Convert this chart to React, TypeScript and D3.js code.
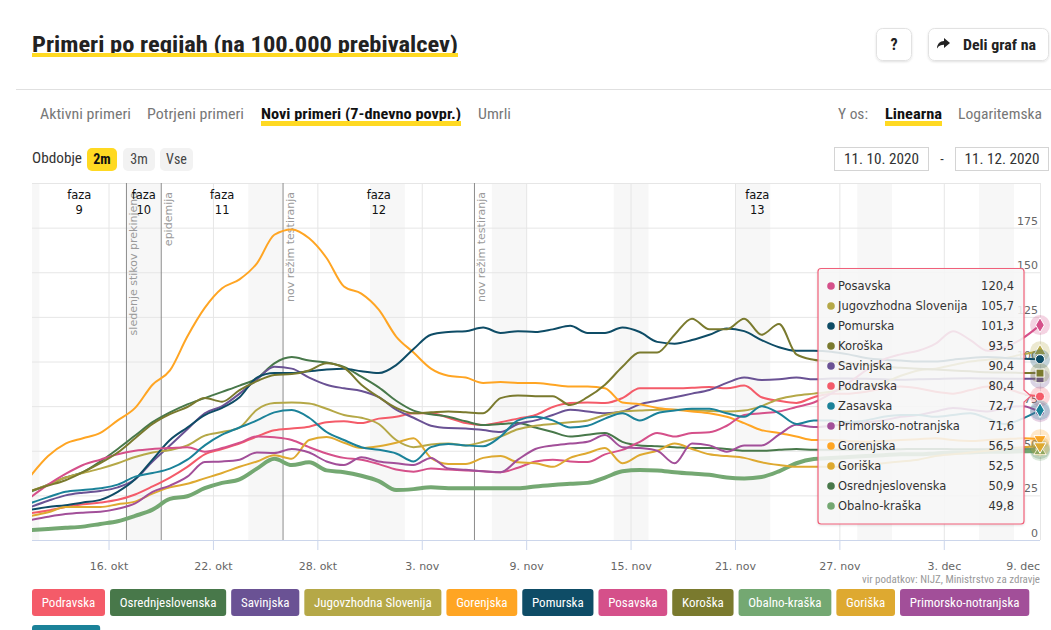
import React from 'react';
import * as d3 from 'd3';

// series, in legend order
const regions = ['Podravska', 'Osrednjeslovenska', 'Savinjska', 'Jugovzhodna Slovenija', 'Gorenjska', 'Pomurska', 'Posavska', 'Koroška', 'Obalno-kraška', 'Goriška', 'Primorsko-notranjska', 'Zasavska'];
const regionColors = ['#f45b69', '#48784a', '#6a5294', '#b5a847', '#ffa523', '#0e4c66', '#d5508a', '#7a7a2e', '#74a872', '#dea930', '#a24f99', '#1b8299'];

// daily values (7-day avg per 100.000), 11. okt – 8. dec
const podravska = [15, 16.5, 18.5, 20, 21, 22.5, 25.5, 30, 35, 41, 48, 51, 54, 58, 61.5, 62.5, 63.5, 66, 66.5, 65.5, 68, 69, 71, 71, 68.5, 65.5, 64.4, 66, 68, 70, 74.5, 76.7, 77, 76.7, 79.5, 85, 85, 85, 85.3, 85.7, 85, 86.5, 80, 78, 76.8, 80, 82, 82, 83, 85, 86, 85, 83, 82, 84, 86, 85, 82, 80.4];
const osrednjeslovenska = [27, 31, 35, 38, 44, 51, 58.5, 66, 71.5, 76, 79.5, 83, 86.5, 90.5, 99, 102.5, 100.5, 99.5, 97, 91.5, 85.5, 78, 72.5, 70.5, 69, 66.5, 64.4, 65, 65.5, 63, 60.5, 58, 59, 60, 55, 53, 52.5, 52, 51.5, 51.5, 51, 50, 50, 50.5, 51, 50.5, 50.5, 50.5, 50.7, 50.8, 50.9, 51, 51, 50.9, 50.8, 50.8, 50.9, 50.9, 50.9];
const savinjska = [18.5, 22, 25, 26.5, 27.5, 29.5, 34, 44, 53, 62, 71, 75, 82, 90, 97, 96, 91, 87, 85, 83.5, 80, 73, 68.5, 64, 62.7, 62.5, 61.6, 60.5, 65, 67, 70, 73, 72, 71, 72, 76, 78, 80, 82, 84, 88, 91, 89.6, 90, 91, 90, 90.5, 90.5, 90.3, 90, 89.8, 90, 90.2, 90.5, 90.6, 90.5, 90.4, 90.4, 90.4];
const jugovzhodna = [27.5, 31, 35, 37.5, 40, 43, 46.5, 49, 50.4, 53, 58.5, 60.5, 63, 73, 76.7, 77, 76.5, 73.5, 70, 68.5, 65, 56, 52, 53.5, 54, 53, 55, 58, 62, 64, 65, 66, 67, 70, 72, 72.5, 73, 73, 72.8, 72.2, 72, 72.5, 75, 79, 81, 82, 83, 85, 86, 88, 92, 95, 96, 98, 100, 101, 102, 104, 105.7];
const gorenjska = [36, 47, 54, 57, 60, 67, 74, 87, 95, 114, 130, 141, 146, 155, 171, 174, 169, 158, 142, 138, 129, 114, 105, 96, 92, 91, 88, 88.5, 88, 88, 87, 86, 86, 85, 77, 76, 74, 73, 72, 71, 69, 65.5, 61.5, 60, 58, 56, 56, 55.5, 55, 55.5, 56, 56.5, 57, 56, 55.5, 56, 56.5, 57, 56.5];
const pomurska = [17, 18.5, 19.5, 21, 22.5, 27, 34, 45, 56, 63, 70, 74, 80, 91, 93.5, 93.5, 94.5, 95.5, 96, 94.5, 93.5, 98, 107, 115, 116.5, 117, 119, 116, 117, 116.5, 118, 120, 116, 116, 119, 116.5, 111, 110, 112, 115, 118.5, 117, 112, 108, 106, 106, 105.5, 104, 102, 101, 100.5, 100, 100, 101, 102, 102.5, 102, 101.5, 101.3];
const posavska = [24, 31, 37, 42, 45, 48, 50, 51, 51.5, 52, 49.5, 51.5, 54.5, 58, 57.5, 56, 52, 48.5, 46, 45, 42.5, 39.5, 38.3, 40, 39.5, 39, 38.5, 38, 40.5, 44, 45, 44, 43.7, 48, 50.5, 55, 60, 58, 60, 60.3, 64, 70, 71, 72, 74.5, 77, 82, 88, 95, 101, 104, 106, 110, 117, 112, 106, 108, 113, 120.4];
const koroska = [27.5, 30.5, 33.5, 38, 43, 49, 57, 65, 70.5, 74.5, 79.5, 77.5, 84, 89, 92.5, 93, 95, 99, 96.5, 87, 80, 74, 71, 71.5, 72, 71.5, 71, 79.5, 81, 80.6, 80.6, 75.6, 80, 87, 97, 105, 105, 115, 124, 118, 118, 124, 115, 121, 104, 101, 100, 99, 98, 97, 96.5, 96, 95.5, 95, 94.5, 94, 93.8, 93.6, 93.5];
const obalnoKraska = [5.6, 6.2, 6.8, 7.5, 9, 10.5, 13.5, 17, 23, 24.5, 29, 32, 34, 40, 45.5, 42, 43.5, 39, 38, 36, 33, 28, 28.5, 29.5, 29, 29, 29, 29, 29, 30, 30.8, 31.5, 32, 35, 38.5, 39.2, 39, 38, 37.2, 36.5, 35, 34.5, 35.3, 38.5, 43, 45.4, 46, 46.5, 47, 47.5, 48, 48, 48.5, 49, 49, 49.5, 49.5, 49.7, 49.8];
const goriska = [13.4, 15.5, 18.5, 18.5, 18.5, 20, 21.5, 26, 29.5, 31.5, 34.5, 37.5, 41, 44, 47.5, 45.5, 56, 57.7, 54.5, 51.5, 52.5, 54.5, 57, 46, 42.6, 42.6, 46, 47, 43.5, 43, 41, 46, 48.7, 51.5, 43, 47.6, 50, 54, 51, 48, 47, 46, 43.5, 42, 41, 41, 41, 41, 42, 43, 44, 45, 47, 48, 49, 50, 51, 52, 52.5];
const primorskoNotranjska = [11.2, 13, 14.5, 15.3, 15.8, 17.5, 20.5, 27, 30.5, 35.5, 43.7, 44, 45, 49, 48.8, 51, 49, 44, 42, 46.3, 44, 43, 42, 46, 40, 39.3, 38.5, 38, 45, 51, 53, 54, 55, 58.8, 52, 51.5, 50, 43, 54, 53, 49.5, 53, 53, 59, 64.5, 63.3, 64, 65, 66, 67, 69, 70, 72, 74, 73, 72, 74, 75, 71.6];
const zasavska = [20.7, 24, 27, 28, 29, 31, 35.5, 37.5, 40, 45, 53, 59, 63, 67, 71.5, 72.8, 68.5, 60.5, 56, 52, 50.5, 48.5, 44, 52, 53.8, 53, 52.5, 58, 67, 69, 67, 63, 64, 68, 71, 67, 71, 72.5, 73.5, 73.5, 71, 69, 75, 71, 65, 67, 67, 66, 67, 69, 70, 70, 69, 70, 71, 68, 65, 68, 72.7];

const seriesValues = [podravska, osrednjeslovenska, savinjska, jugovzhodna, gorenjska, pomurska, posavska, koroska, obalnoKraska, goriska, primorskoNotranjska, zasavska];

// x-axis ticks (every 6 days) and month names
const tickDays = [[9, 16], [9, 22], [9, 28], [10, 3], [10, 9], [10, 15], [10, 21], [10, 27], [11, 3], [11, 9]];
const monthNames = ['jan', 'feb', 'mar', 'apr', 'maj', 'jun', 'jul', 'avg', 'sep', 'okt', 'nov', 'dec'];
const yTicks = [0, 25, 50, 75, 100, 125, 150, 175, 200];

// vertical markers and phases
const eventDays = [[9, 17], [9, 19], [9, 26], [10, 6]];
const eventLabels = ['sledenje stikov prekinjeno', 'epidemija', 'nov režim testiranja', 'nov režim testiranja'];
const phaseLabels = ['9', '10', '11', '12', '13'];

const tabLabels = ['Aktivni primeri', 'Potrjeni primeri', 'Novi primeri (7-dnevno povpr.)', 'Umrli'];

const W = 1051, H = 630;
const L = 32, R = 1040, T = 183, B = 540;
const UI = '"Liberation Sans Narrow", "Roboto Condensed", "Arial Narrow", Roboto, sans-serif';
const CH = '"DejaVu Sans", Verdana, sans-serif';

const fmt = (v: number) => v.toFixed(1).replace('.', ',');

let ctx: CanvasRenderingContext2D | null = null;
function textWidth(t: string, font: string) {
  if (!ctx) ctx = document.createElement('canvas').getContext('2d');
  ctx!.font = font;
  return ctx!.measureText(t).width;
}

const App: React.FC = () => {
  const dates = podravska.map((_, i) => new Date(2020, 9, 11 + i, 12));
  const x = d3.scaleTime().domain([new Date(2020, 9, 11, 13, 45), new Date(2020, 11, 8, 12)]).range([L, R]);
  const y = d3.scaleLinear().domain([0, 200]).range([B, T]);

  const line = d3.line<number>()
    .x((_, i) => x(dates[i]))
    .y(v => y(v))
    .curve(d3.curveMonotoneX);

  // weekend bands
  const days = d3.timeDay.range(new Date(2020, 9, 10), new Date(2020, 11, 9));
  const weekends = days.filter(d => d.getDay() === 6).map(d => [
    Math.max(L, x(d)), Math.min(R, x(d3.timeDay.offset(d, 2)))
  ]).filter(([a, b]) => b > a);

  const eventX = eventDays.map(([m, d]) => x(new Date(2020, m, d)));
  const phaseBounds = [[L, eventX[0]], [eventX[0], eventX[1]], [eventX[1], eventX[2]], [eventX[2], eventX[3]], [eventX[3], R]];

  const symbols = [d3.symbolCircle, d3.symbolDiamond, d3.symbolSquare, d3.symbolTriangle, d3.symbolTriangle];
  const symbolPath = (i: number) => d3.symbol(symbols[i % 5], 64)()!;

  // tooltip rows sorted by last value
  const last = seriesValues.map((s, i) => ({ name: regions[i], color: regionColors[i], v: s[s.length - 1] }))
    .sort((a, b) => b.v - a.v);

  // legend layout
  const legFont = `13px ${UI}`;
  let lx = L, ly = 589;
  const legend = regions.map((r, i) => {
    const w = textWidth(r, legFont) + 19.5;
    if (lx + w > R + 2) { lx = L; ly += 36; }
    const item = { r, i, x: lx, y: ly, w };
    lx += w + 5;
    return item;
  });

  const tabX = [40, 147, 261, 478];
  const tabW = [91, 97, 200, 33];

  return (
    <div style={{ position: 'absolute', left: 0, top: 0 }}>
      <svg width={W} height={H} style={{ display: 'block', background: '#fff' }}>
        <defs>
          <clipPath id="plotclip"><rect x={L} y={T} width={R - L} height={B - T} /></clipPath>
          <filter id="sh" x="-20%" y="-20%" width="140%" height="140%">
            <feDropShadow dx="0" dy="1" stdDeviation="1.2" floodColor="#000" floodOpacity="0.12" />
          </filter>
        </defs>

        {/* header */}
        <text x={L} y={52} fontFamily={UI} fontWeight="bold" fontSize={22.5} fill="#222" textLength={426} lengthAdjust="spacingAndGlyphs">
          Primeri po regijah (na 100.000 prebivalcev)
        </text>
        <rect x={L} y={53} width={426} height={4} fill="#ffd922" />

        <rect x={876.5} y={28.5} width={35} height={32} rx={6} fill="#fff" stroke="#e2e2e2" filter="url(#sh)" />
        <text x={894} y={50} textAnchor="middle" fontFamily={UI} fontWeight="bold" fontSize={16} fill="#222">?</text>
        <rect x={928.5} y={28.5} width={120} height={32} rx={6} fill="#fff" stroke="#e2e2e2" filter="url(#sh)" />
        <path d="M0,5 L6,0 L6,3 C10,3 13,6 13,10.5 C11,7.5 9,6.8 6,6.8 L6,10 Z" transform="translate(950,38) scale(-1,1)" fill="#222" />
        <text x={963} y={49.5} fontFamily={UI} fontWeight="bold" fontSize={15} fill="#222" textLength={73} lengthAdjust="spacingAndGlyphs">Deli graf na</text>

        <line x1={16} x2={W} y1={89.5} y2={89.5} stroke="#e0e0e0" />

        {tabLabels.map((t, i) => (
          <text key={t} x={tabX[i]} y={119} fontFamily={UI} fontSize={15} fontWeight={i === 2 ? 'bold' : 'normal'} fill={i === 2 ? '#111' : '#777'}
            textLength={tabW[i]} lengthAdjust="spacingAndGlyphs">{t}</text>
        ))}
        <rect x={261} y={121} width={200} height={5} fill="#ffd922" />
        <text x={838} y={119} fontFamily={UI} fontSize={15} fill="#777" textLength={30} lengthAdjust="spacingAndGlyphs">Y os:</text>
        <text x={885} y={119} fontFamily={UI} fontSize={15} fontWeight="bold" fill="#111" textLength={57} lengthAdjust="spacingAndGlyphs">Linearna</text>
        <rect x={885} y={121} width={57} height={5} fill="#ffd922" />
        <text x={958} y={119} fontFamily={UI} fontSize={15} fill="#777" textLength={84} lengthAdjust="spacingAndGlyphs">Logaritemska</text>

        <text x={L} y={163} fontFamily={UI} fontSize={14} fill="#333" textLength={50} lengthAdjust="spacingAndGlyphs">Obdobje</text>
        <rect x={87} y={148} width={30} height={23} rx={5} fill="#ffd922" />
        <text x={102} y={164} textAnchor="middle" fontFamily={UI} fontSize={14} fontWeight="bold" fill="#111">2m</text>
        <rect x={123} y={148} width={32} height={23} rx={5} fill="#f2f2f2" />
        <text x={139} y={164} textAnchor="middle" fontFamily={UI} fontSize={14} fill="#444">3m</text>
        <rect x={160} y={148} width={33} height={23} rx={5} fill="#f2f2f2" />
        <text x={176.5} y={164} textAnchor="middle" fontFamily={UI} fontSize={14} fill="#444">Vse</text>

        <rect x={834.5} y={147.5} width={94} height={23} fill="#fff" stroke="#d4d4d4" />
        <text x={881.5} y={164} textAnchor="middle" fontFamily={UI} fontSize={14} fill="#333" textLength={75} lengthAdjust="spacingAndGlyphs">11. 10. 2020</text>
        <text x={942} y={164} textAnchor="middle" fontFamily={UI} fontSize={14} fill="#333">-</text>
        <rect x={955.5} y={147.5} width={93} height={23} fill="#fff" stroke="#d4d4d4" />
        <text x={1002} y={164} textAnchor="middle" fontFamily={UI} fontSize={14} fill="#333" textLength={75} lengthAdjust="spacingAndGlyphs">11. 12. 2020</text>

        {/* plot bands */}
        {weekends.map(([a, b], i) => (
          <rect key={i} x={a} y={T} width={b - a} height={B - T} fill="#f7f7f7" />
        ))}

        {/* grid */}
        {yTicks.map(t => (
          <line key={t} x1={L} x2={R} y1={y(t) + 0.5} y2={y(t) + 0.5} stroke="#e6e6e6" />
        ))}
        {tickDays.map(([m, d]) => {
          const xx = x(new Date(2020, m, d));
          if (xx > R) return null;
          return <line key={`${m}-${d}`} x1={xx} x2={xx} y1={T} y2={B} stroke="#e6e6e6" />;
        })}
        <line x1={R + 0.5} x2={R + 0.5} y1={T} y2={B} stroke="#e6e6e6" />

        {/* event lines */}
        {eventX.map((xx, i) => (
          <g key={i}>
            <line x1={xx} x2={xx} y1={T} y2={B} stroke="#8c8c8c" />
            <text transform={`translate(${xx + 11},${192}) rotate(-90)`} textAnchor="end" fontFamily={CH} fontSize={11} fill="#9a9a9a">{eventLabels[i]}</text>
          </g>
        ))}
        {phaseBounds.map(([a, b], i) => (
          <text key={i} x={(a + b) / 2} y={199} textAnchor="middle" fontFamily={CH} fontSize={11.5} fill="#111">
            <tspan x={(a + b) / 2}>faza</tspan>
            <tspan x={(a + b) / 2} dy={15}>{phaseLabels[i]}</tspan>
          </text>
        ))}

        {/* axes */}
        <line x1={L} x2={R} y1={B + 0.5} y2={B + 0.5} stroke="#ccd6eb" />
        {tickDays.map(([m, d]) => {
          const dt = new Date(2020, m, d);
          const xx = x(dt);
          const label = `${d}. ${monthNames[m]}`;
          const over = xx > R - 15;
          return (
            <g key={label}>
              {xx <= R && <line x1={xx} x2={xx} y1={B} y2={B + 10} stroke="#ccd6eb" />}
              <text x={over ? R : xx} y={570} textAnchor={over ? 'end' : 'middle'} fontFamily={CH} fontSize={11} fill="#666">{label}</text>
            </g>
          );
        })}
        {yTicks.filter(t => t < 200).map(t => (
          <text key={t} x={R - 2} y={y(t) - 3} textAnchor="end" fontFamily={CH} fontSize={11} fill="#666">{t}</text>
        ))}
        <text x={R} y={583} textAnchor="end" fontFamily={UI} fontSize={11} fill="#999" textLength={178} lengthAdjust="spacingAndGlyphs">vir podatkov: NIJZ, Ministrstvo za zdravje</text>

        {/* series */}
        <g clipPath="url(#plotclip)">
          {seriesValues.map((s, i) => (
            <path key={regions[i]} d={line(s)!} fill="none" stroke={regionColors[i]} strokeWidth={regions[i] === 'Obalno-kraška' ? 4 : 2} strokeLinejoin="round" strokeLinecap="round" />
          ))}
        </g>

        {/* end markers */}
        {seriesValues.map((s, i) => {
          const cx = x(dates[dates.length - 1]);
          const cy = y(s[s.length - 1]);
          const down = i % 5 === 4;
          return (
            <g key={regions[i]} transform={`translate(${cx},${cy})`}>
              <circle r={10} fill={regionColors[i]} opacity={0.25} />
              <path d={symbolPath(i)} transform={down ? 'rotate(180)' : undefined} fill={regionColors[i]} stroke="#fff" strokeWidth={1} />
            </g>
          );
        })}

        {/* tooltip */}
        <g>
          <path d={`M821,268.5 H1021 a3,3 0 0 1 3,3 V390 L1031,396 L1024,402 V521 a3,3 0 0 1 -3,3 H821 a3,3 0 0 1 -3,-3 V271.5 a3,3 0 0 1 3,-3 Z`}
            fill="rgba(248,248,248,0.86)" stroke="#f0607a" strokeWidth={1.2} filter="url(#sh)" />
          {last.map((r, k) => (
            <g key={r.name} transform={`translate(0,${286 + k * 20})`}>
              <circle cx={831} cy={0} r={3.8} fill={r.color} />
              <text x={838} y={4} fontFamily={CH} fontSize={11.5} fill="#333">{r.name}</text>
              <text x={1014} y={4} textAnchor="end" fontFamily={CH} fontSize={11.5} fill="#333">{fmt(r.v)}</text>
            </g>
          ))}
        </g>

        {/* legend */}
        {legend.map(it => (
          <g key={it.r}>
            <rect x={it.x} y={it.y} width={it.w} height={27} rx={3} fill={regionColors[it.i]} />
            {it.y + 18 < H && (
              <text x={it.x + it.w / 2} y={it.y + 18} textAnchor="middle" fontFamily={UI} fontSize={13} fill="#fff">{it.r}</text>
            )}
          </g>
        ))}
      </svg>
    </div>
  );
};

export default App;
